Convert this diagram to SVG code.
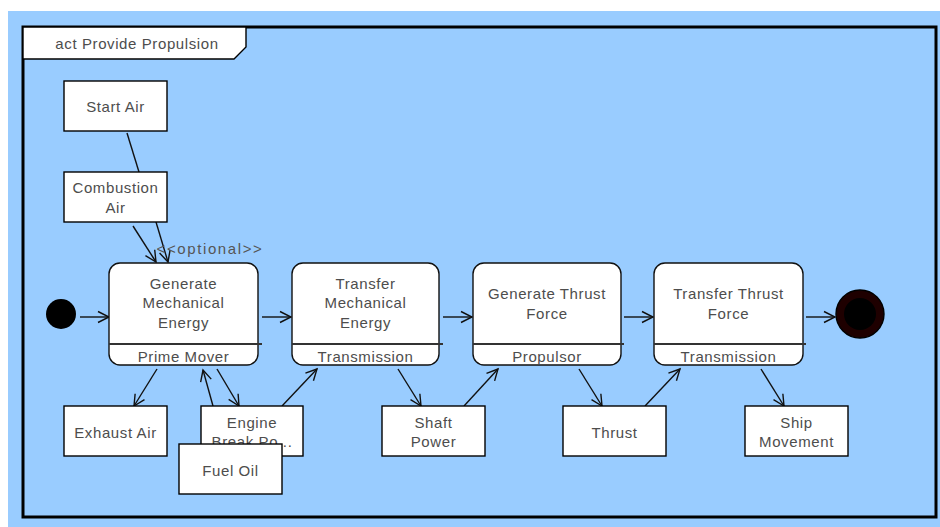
<svg xmlns="http://www.w3.org/2000/svg" width="940" height="527" viewBox="0 0 940 527">
  <style>
    .txt { font-family: "Liberation Sans", Arial, sans-serif; font-size: 15px; fill: #4d4d4d; letter-spacing: 0.6px; text-anchor: middle; dominant-baseline: central; }
    .stereo { fill: #555; letter-spacing: 1.6px; }
    .obj { fill: #fff; stroke: #000; stroke-width: 1.4; }
    .act { fill: #fff; stroke: #111; stroke-width: 1.4; }
    .div { stroke: #333; stroke-width: 2; }
    .edge { fill: none; stroke: #111; stroke-width: 1.4; }
    .flow { marker-end: url(#open); }
  </style>
  <defs>
    <marker id="open" markerUnits="userSpaceOnUse" markerWidth="14" markerHeight="14" viewBox="-12 -7 14 14" refX="0" refY="0" orient="auto">
      <path d="M-11,-5.5 L0,0 L-11,5.5" fill="none" stroke="#111" stroke-width="1.4"/>
    </marker>
    <clipPath id="ebClip"><rect x="201" y="406" width="102" height="50"/></clipPath>
  </defs>

  <!-- canvas and activity frame -->
  <rect x="8" y="11" width="932" height="516" fill="#99ccff"/>
  <rect x="23" y="27" width="913" height="490" fill="#99ccff" stroke="#000" stroke-width="3"/>
  <g id="frame-title">
    <path d="M23,27 H246 V47 L234,59 H23 Z" fill="#fff" stroke="#000" stroke-width="1.4"/>
    <text class="txt" x="137" y="43">act Provide Propulsion</text>
  </g>

  <!-- connectors -->
  <g id="connectors">
    <line class="edge" x1="127" y1="133" x2="139" y2="172"/>
    <line class="edge flow" x1="133" y1="226" x2="156" y2="262"/>
    <line class="edge flow" x1="156" y1="222" x2="168" y2="262"/>
    <line class="edge flow" x1="80" y1="317" x2="109" y2="317"/>
    <line class="edge flow" x1="262" y1="317" x2="291" y2="317"/>
    <line class="edge flow" x1="443" y1="317" x2="472" y2="317"/>
    <line class="edge flow" x1="624" y1="317" x2="653" y2="317"/>
    <line class="edge flow" x1="806" y1="317" x2="835" y2="317"/>
    <line class="edge flow" x1="157" y1="369" x2="134" y2="406"/>
    <line class="edge flow" x1="213" y1="406" x2="203" y2="370"/>
    <line class="edge flow" x1="217" y1="369" x2="239" y2="406"/>
    <line class="edge flow" x1="282" y1="406" x2="317" y2="369"/>
    <line class="edge flow" x1="398" y1="369" x2="421" y2="406"/>
    <line class="edge flow" x1="464" y1="406" x2="498" y2="369"/>
    <line class="edge flow" x1="579" y1="369" x2="602" y2="406"/>
    <line class="edge flow" x1="645" y1="406" x2="680" y2="369"/>
    <line class="edge flow" x1="761" y1="369" x2="784" y2="406"/>
    <text class="txt stereo" x="210" y="248">&lt;&lt;optional&gt;&gt;</text>
  </g>

  <!-- initial and final nodes -->
  <g id="initial">
    <circle cx="61" cy="314" r="15" fill="#000"/>
  </g>
  <g id="final">
    <circle cx="860" cy="314" r="24" fill="#1e0000" stroke="#000" stroke-width="1.4"/>
    <circle cx="860" cy="314" r="16" fill="#000"/>
  </g>

  <!-- object nodes -->
  <g id="start-air">
    <rect class="obj" x="64" y="81" width="103" height="50"/>
    <text class="txt" x="115.5" y="106">Start Air</text>
  </g>
  <g id="combustion-air">
    <rect class="obj" x="64" y="172" width="103" height="50"/>
    <text class="txt" x="115.5" y="187">Combustion</text>
    <text class="txt" x="115.5" y="207">Air</text>
  </g>
  <g id="exhaust-air">
    <rect class="obj" x="64" y="406" width="103" height="50"/>
    <text class="txt" x="115.5" y="432">Exhaust Air</text>
  </g>
  <g id="engine-break-power">
    <rect class="obj" x="201" y="406" width="102" height="50"/>
    <g clip-path="url(#ebClip)">
      <text class="txt" x="252" y="422">Engine</text>
      <text class="txt" x="252" y="441">Break Po...</text>
    </g>
  </g>
  <g id="fuel-oil">
    <rect class="obj" x="179" y="444" width="103" height="50"/>
    <text class="txt" x="230.5" y="470">Fuel Oil</text>
  </g>
  <g id="shaft-power">
    <rect class="obj" x="382" y="406" width="103" height="50"/>
    <text class="txt" x="433.5" y="422">Shaft</text>
    <text class="txt" x="433.5" y="441">Power</text>
  </g>
  <g id="thrust">
    <rect class="obj" x="563" y="406" width="103" height="50"/>
    <text class="txt" x="614.5" y="432">Thrust</text>
  </g>
  <g id="ship-movement">
    <rect class="obj" x="745" y="406" width="103" height="50"/>
    <text class="txt" x="796.5" y="422">Ship</text>
    <text class="txt" x="796.5" y="441">Movement</text>
  </g>

  <!-- actions -->
  <g id="generate-mechanical-energy">
    <rect class="act" x="109" y="263" width="149" height="102" rx="11"/>
    <line class="div" x1="109" y1="344" x2="262" y2="344"/>
    <text class="txt" x="183.5" y="283">Generate</text>
    <text class="txt" x="183.5" y="302">Mechanical</text>
    <text class="txt" x="183.5" y="322">Energy</text>
    <text class="txt" x="183.5" y="356">Prime Mover</text>
  </g>
  <g id="transfer-mechanical-energy">
    <rect class="act" x="292" y="263" width="147" height="102" rx="11"/>
    <line class="div" x1="292" y1="344" x2="443" y2="344"/>
    <text class="txt" x="365.5" y="283">Transfer</text>
    <text class="txt" x="365.5" y="302">Mechanical</text>
    <text class="txt" x="365.5" y="322">Energy</text>
    <text class="txt" x="365.5" y="356">Transmission</text>
  </g>
  <g id="generate-thrust-force">
    <rect class="act" x="473" y="263" width="148" height="102" rx="11"/>
    <line class="div" x1="473" y1="344" x2="624" y2="344"/>
    <text class="txt" x="547" y="293">Generate Thrust</text>
    <text class="txt" x="547" y="313">Force</text>
    <text class="txt" x="547" y="356">Propulsor</text>
  </g>
  <g id="transfer-thrust-force">
    <rect class="act" x="654" y="263" width="149" height="102" rx="11"/>
    <line class="div" x1="654" y1="344" x2="806" y2="344"/>
    <text class="txt" x="728.5" y="293">Transfer Thrust</text>
    <text class="txt" x="728.5" y="313">Force</text>
    <text class="txt" x="728.5" y="356">Transmission</text>
  </g>
</svg>
